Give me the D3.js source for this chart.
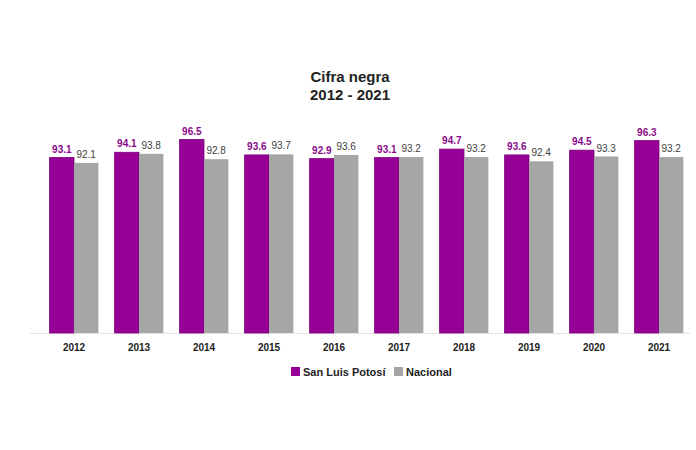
<!DOCTYPE html>
<html>
<head>
<meta charset="utf-8">
<script src="https://cdn.jsdelivr.net/npm/d3@7"></script>
<style>
  body { margin: 0; background: #fff; }
  text { font-family: "Liberation Sans", Arial, sans-serif; }
</style>
</head>
<body>
<div id="chart"></div>
<script>
const years = ['2012','2013','2014','2015','2016','2017','2018','2019','2020','2021'];
const slp = [93.1, 94.1, 96.5, 93.6, 92.9, 93.1, 94.7, 93.6, 94.5, 96.3];
const nacional = [92.1, 93.8, 92.8, 93.7, 93.6, 93.2, 93.2, 92.4, 93.3, 93.2];
const seriesNames = ['San Luis Potosí', 'Nacional'];

const W = 696, H = 450;
const PURPLE = '#960096', GRAY = '#A6A6A6';

const svg = d3.select('#chart').append('svg')
  .attr('width', W).attr('height', H);

const x = d3.scaleBand().domain(years).range([41.5, 691.5]).paddingInner(0.25).paddingOuter(0.125);
const sub = d3.scaleBand().domain(seriesNames).range([0, x.bandwidth()]);
const y = d3.scaleLinear().domain([60, 100]).range([333, 121]);

// title
svg.append('text').attr('x', 350).attr('y', 82).attr('text-anchor', 'middle')
  .style('font-size', '15px').style('font-weight', 'bold').attr('fill', '#222').text('Cifra negra');
svg.append('text').attr('x', 350).attr('y', 100).attr('text-anchor', 'middle')
  .style('font-size', '15px').style('font-weight', 'bold').attr('fill', '#222').text('2012 - 2021');

// baseline
svg.append('line').attr('x1', 30).attr('x2', 690).attr('y1', y(60) + 0.5).attr('y2', y(60) + 0.5)
  .attr('stroke', '#e4e4e4');

const rows = years.map((yr, i) => ({ yr, vals: [slp[i], nacional[i]] }));

const g = svg.selectAll('g.cat').data(rows).enter().append('g')
  .attr('transform', d => `translate(${x(d.yr)},0)`);

g.selectAll('rect').data(d => d.vals.map((v, j) => ({ v, s: seriesNames[j], j })))
  .enter().append('rect')
  .attr('x', d => sub(d.s))
  .attr('y', d => y(d.v))
  .attr('width', sub.bandwidth())
  .attr('height', d => y(60) - y(d.v))
  .attr('fill', d => d.j === 0 ? PURPLE : GRAY)
  .attr('stroke', d => d.j === 0 ? '#7a007a' : 'none')
  .attr('stroke-width', 0.8);

g.selectAll('text.val').data(d => d.vals.map((v, j) => ({ v, s: seriesNames[j], j })))
  .enter().append('text')
  .attr('class', 'val')
  .attr('x', d => sub(d.s) + sub.bandwidth() / 2)
  .attr('y', d => y(d.v) - 5)
  .attr('text-anchor', 'middle')
  .style('font-size', '10px')
  .style('font-weight', d => d.j === 0 ? 'bold' : 'normal')
  .attr('fill', d => d.j === 0 ? '#8a0a8a' : '#404040')
  .text(d => d.v.toFixed(1));

// x axis labels
const xAxis = svg.append('g').attr('transform', `translate(0,${y(60)})`)
  .call(d3.axisBottom(x).tickSize(0).tickPadding(11));
xAxis.select('.domain').remove();
xAxis.selectAll('text').style('font-size', '10px').style('font-weight', 'bold')
  .attr('fill', '#222').style('font-family', '"Liberation Sans", Arial, sans-serif');

// legend
const legend = svg.append('g').attr('transform', 'translate(291,367)');
const legX = [0, 103];
seriesNames.forEach((n, i) => {
  legend.append('rect').attr('x', legX[i]).attr('y', 0).attr('width', 9).attr('height', 9)
    .attr('fill', i === 0 ? PURPLE : GRAY);
  legend.append('text').attr('x', legX[i] + 12).attr('y', 9)
    .style('font-size', '11px').style('font-weight', 'bold').attr('fill', '#222').text(n);
});
</script>
</body>
</html>
